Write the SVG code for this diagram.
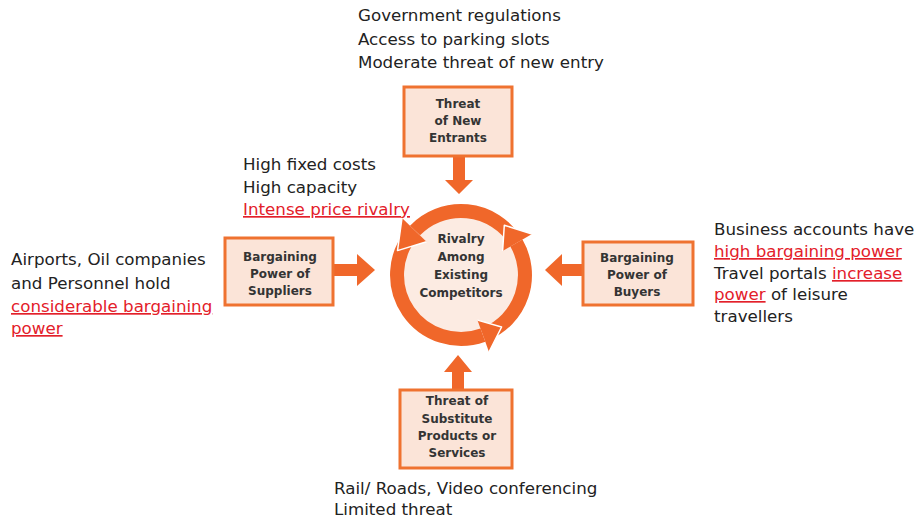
<svg xmlns="http://www.w3.org/2000/svg" width="918" height="520" viewBox="0 0 918 520">
  <style>
    .note { font-family: "DejaVu Sans", Verdana, sans-serif; font-size: 16.7px; fill: #222; }
    .hot { fill: #e3202a; text-decoration: underline; }
    .box { fill: #fbe4d8; stroke: #ef7230; stroke-width: 3; }
    .lbl { font-family: "DejaVu Sans", Verdana, sans-serif; font-size: 12px; font-weight: bold; fill: #343434; text-anchor: middle; }
    .force { fill: #f0672a; }
    .ring { fill: none; stroke: #f0672a; stroke-width: 14; }
    .edge { fill: none; stroke: #ffffff; stroke-width: 1.5; stroke-linejoin: round; }
  </style>

  <rect width="918" height="520" fill="#ffffff"/>

  <!-- annotations -->
  <g id="notes-entrants">
    <text class="note" x="358" y="21">Government regulations</text>
    <text class="note" x="358" y="44.5">Access to parking slots</text>
    <text class="note" x="358" y="68">Moderate threat of new entry</text>
  </g>
  <g id="notes-rivalry">
    <text class="note" x="243" y="170">High fixed costs</text>
    <text class="note" x="243" y="193">High capacity</text>
    <text class="note" x="243" y="215"><tspan class="hot">Intense price rivalry</tspan></text>
  </g>
  <g id="notes-suppliers">
    <text class="note" x="11" y="265">Airports, Oil companies</text>
    <text class="note" x="11" y="289">and Personnel hold</text>
    <text class="note" x="11" y="312"><tspan class="hot">considerable bargaining</tspan></text>
    <text class="note" x="11" y="334"><tspan class="hot">power</tspan></text>
  </g>
  <g id="notes-buyers">
    <text class="note" x="714" y="235">Business accounts have</text>
    <text class="note" x="714" y="257"><tspan class="hot">high bargaining power</tspan></text>
    <text class="note" x="714" y="279">Travel portals <tspan class="hot">increase</tspan></text>
    <text class="note" x="714" y="300"><tspan class="hot">power</tspan> of leisure</text>
    <text class="note" x="714" y="322">travellers</text>
  </g>
  <g id="notes-substitutes">
    <text class="note" x="334" y="494">Rail/ Roads, Video conferencing</text>
    <text class="note" x="334" y="515">Limited threat</text>
  </g>

  <!-- force arrows pointing at the centre -->
  <g id="connectors">
    <polygon class="force" points="453,157 465,157 465,180 473,180 459,194 445,180 453,180"/>
    <polygon class="force" points="333,264 357,264 357,254 375,270 357,286 357,276 333,276"/>
    <polygon class="force" points="583,264 562,264 562,254 545,270 562,286 562,276 583,276"/>
    <polygon class="force" points="452,390 464,390 464,372 472,372 458,355 444,372 452,372"/>
  </g>

  <!-- central rivalry cycle -->
  <g id="rivalry">
    <circle cx="461" cy="275" r="58" fill="#fcebe2"/>
    <path class="ring" d="M486.0,333.9 A64,64 0 0 0 516.4,243.0"/>
    <path class="ring" d="M514.7,240.1 A64,64 0 0 0 415.0,230.5"/>
    <path class="ring" d="M412.7,233.0 A64,64 0 0 0 482.9,335.1"/>
    <polygon class="force" points="532.0,234.0 504.3,225.2 502.6,251.0"/>
    <polyline class="edge" points="532.0,234.0 504.3,225.2 502.6,251.0"/>
    <polygon class="force" points="402.0,218.0 397.5,250.6 426.5,241.7"/>
    <polyline class="edge" points="402.0,218.0 397.5,250.6 426.5,241.7"/>
    <polygon class="force" points="489.0,352.1 501.6,327.0 477.4,320.1"/>
    <polyline class="edge" points="489.0,352.1 501.6,327.0 477.4,320.1"/>
    <text class="lbl" x="461" y="243">Rivalry</text>
    <text class="lbl" x="461" y="261">Among</text>
    <text class="lbl" x="461" y="279">Existing</text>
    <text class="lbl" x="461" y="297">Competitors</text>
  </g>

  <g id="new-entrants">
    <rect class="box" x="404" y="87" width="108" height="69"/>
    <text class="lbl" x="458" y="108">Threat</text>
    <text class="lbl" x="458" y="125">of New</text>
    <text class="lbl" x="458" y="142">Entrants</text>
  </g>
  <g id="suppliers">
    <rect class="box" x="225" y="238" width="108" height="67"/>
    <text class="lbl" x="280" y="261">Bargaining</text>
    <text class="lbl" x="280" y="278">Power of</text>
    <text class="lbl" x="280" y="295">Suppliers</text>
  </g>
  <g id="buyers">
    <rect class="box" x="583" y="242" width="110" height="63"/>
    <text class="lbl" x="637" y="262">Bargaining</text>
    <text class="lbl" x="637" y="279">Power of</text>
    <text class="lbl" x="637" y="296">Buyers</text>
  </g>
  <g id="substitutes">
    <rect class="box" x="400" y="390" width="112" height="78"/>
    <text class="lbl" x="457" y="405">Threat of</text>
    <text class="lbl" x="457" y="423">Substitute</text>
    <text class="lbl" x="457" y="440">Products or</text>
    <text class="lbl" x="457" y="457">Services</text>
  </g>
</svg>
